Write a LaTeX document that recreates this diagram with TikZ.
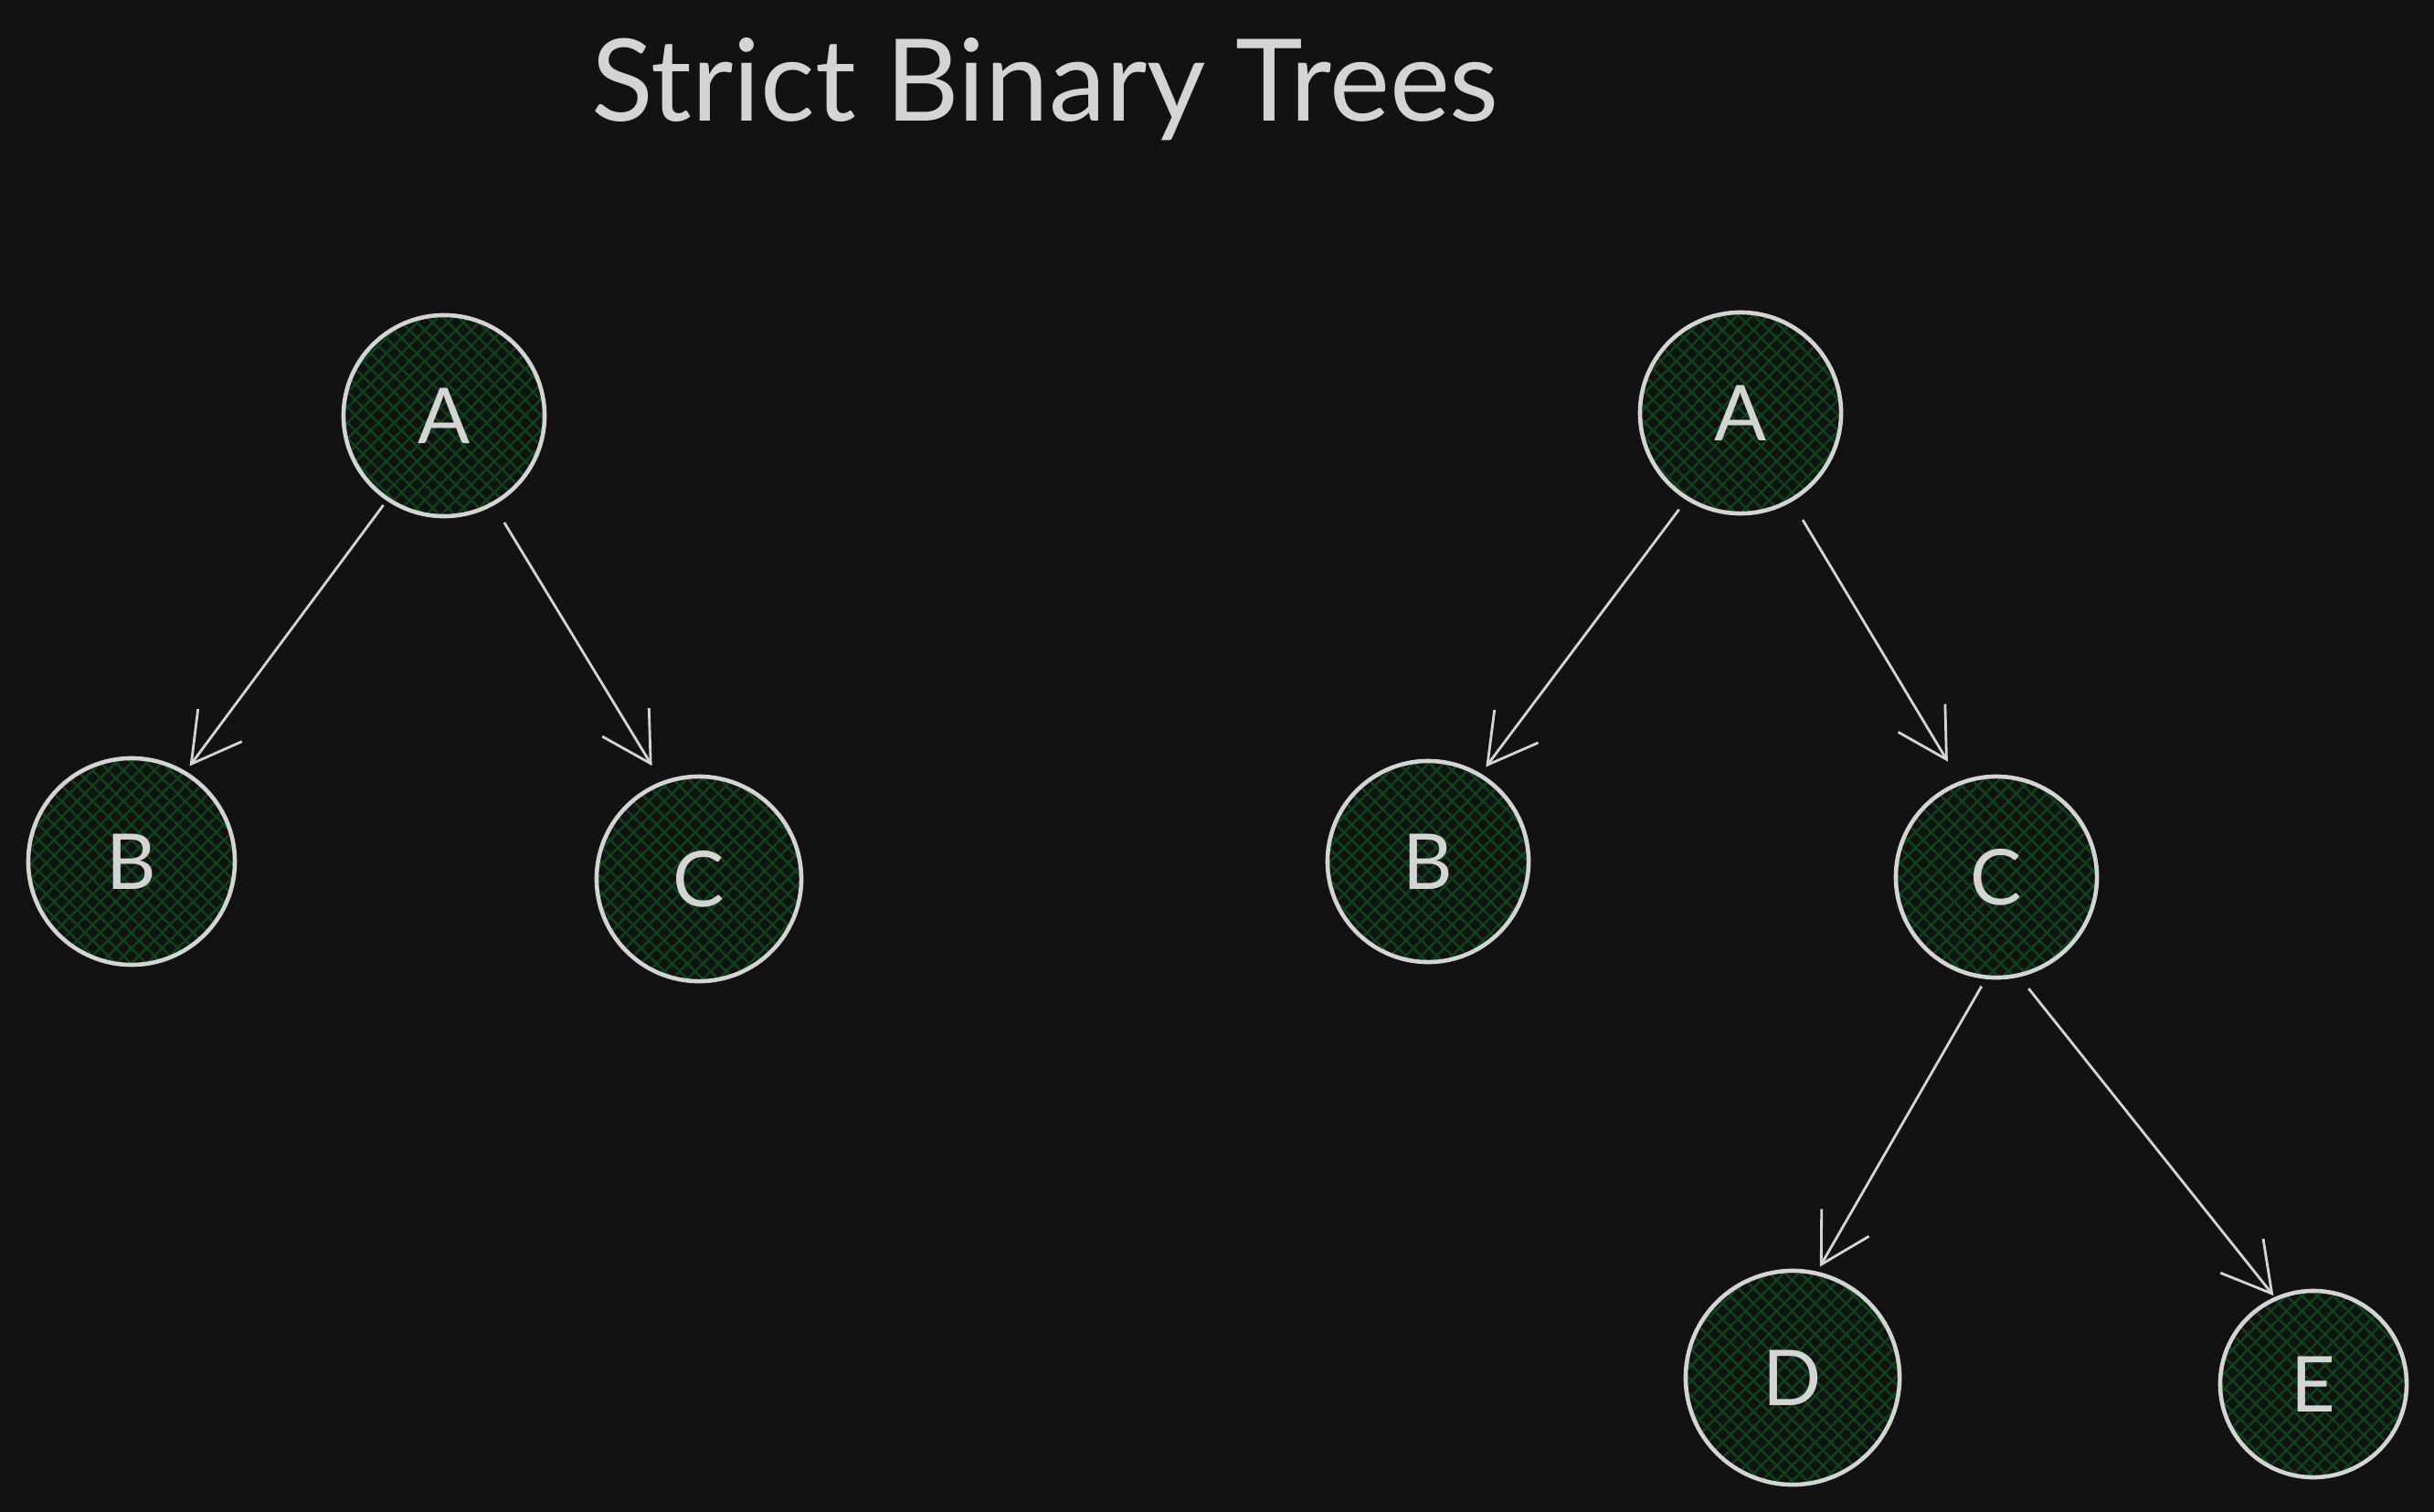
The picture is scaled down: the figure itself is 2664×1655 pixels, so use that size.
\documentclass[tikz,border=0pt]{standalone}
\usepackage{fontspec}
\setmainfont{Lato}
\usetikzlibrary{patterns.meta,arrows.meta}
\definecolor{bg}{HTML}{121212}
\definecolor{ink}{HTML}{D4D4D4}
\definecolor{hatch}{HTML}{0C4419}
\tikzset{
  treenode/.style={circle, draw=ink, line width=1.3pt, text=ink,
    pattern={Hatch[angle=45,distance=3.4pt,line width=0.7pt]}, pattern color=hatch,
    font=\fontsize{24}{24}\selectfont, inner sep=0pt},
  arr/.style={draw=ink, line width=0.8pt, -{Straight Barb[length=15pt,width=17pt,line width=0.8pt]}},
}
\begin{document}
\begin{tikzpicture}[x=0.01cm,y=-0.01cm]
\fill[bg] (0,0) rectangle (2664,1655);
\useasboundingbox (0,0) rectangle (2664,1655);
\node[text=ink, font=\fontsize{35.5}{36}\selectfont, anchor=base] (title) at (1144,133) {Strict Binary Trees};
% left tree
\node[treenode, minimum size=2.2cm] (lA) at (486,455) {A};
\node[treenode, minimum size=2.26cm] (lB) at (144,943) {B};
\node[treenode, minimum size=2.24cm] (lC) at (765,962) {C};
% right tree
\node[treenode, minimum size=2.2cm] (rA) at (1905,452) {A};
\node[treenode, minimum size=2.2cm] (rB) at (1563,943) {B};
\node[treenode, minimum size=2.2cm] (rC) at (2185,960) {C};
\node[treenode, minimum size=2.34cm] (rD) at (1962,1508) {D};
\node[treenode, minimum size=2.04cm] (rE) at (2532,1515) {E};
% edges
\draw[arr, shorten <=0.07cm, shorten >=0.07cm] (lA.-124.2) -- (lB.59.6);
\draw[arr, shorten <=0.23cm, shorten >=0.2cm] (lA.-61.9) -- (lC.111.2);
\draw[arr, shorten <=0.13cm, shorten >=0.09cm] (rA.-122.8) -- (rB.59.6);
\draw[arr, shorten <=0.23cm, shorten >=0.25cm] (rA.-60.6) -- (rC.111.1);
\draw[arr, shorten <=0.09cm, shorten >=0.06cm] (rC.-96.7) -- (rD.77.8);
\draw[arr, shorten <=0.16cm, shorten >=0.02cm] (rC.-77.7) -- (rE.114.4);
\end{tikzpicture}
\end{document}
